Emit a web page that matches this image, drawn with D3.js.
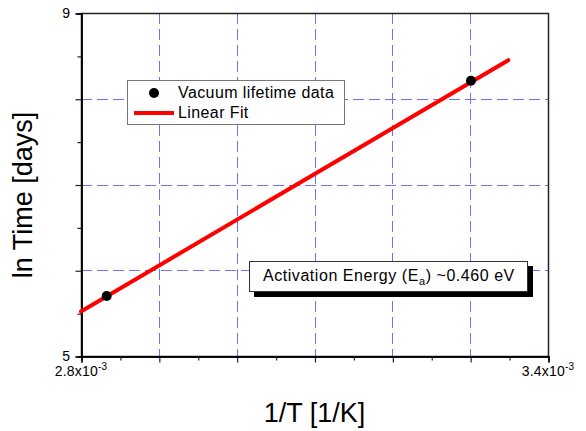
<!DOCTYPE html>
<html>
<head>
<meta charset="utf-8">
<script src="https://cdn.jsdelivr.net/npm/d3@7"></script>
<style>
  body { margin: 0; background: #fff; }
  text { font-family: Arial, "Liberation Sans", sans-serif; fill: #000; }
</style>
</head>
<body>
<svg id="chart" width="586" height="431"></svg>
<script>
// data
let points_x = [2.833e-3, 3.301e-3]
let points_y = [5.70, 8.21]
let fit_x = [2.8e-3, 3.349e-3]
let fit_y = [5.52, 8.45]
let x_major = [2.8e-3, 2.9e-3, 3.0e-3, 3.1e-3, 3.2e-3, 3.3e-3, 3.4e-3]
let x_minor = [2.85e-3, 2.95e-3, 3.05e-3, 3.15e-3, 3.25e-3, 3.35e-3]
let y_major = [5, 6, 7, 8, 9]
let y_minor = [5.5, 6.5, 7.5, 8.5]
let x_labels = [[2.8e-3, "2.8x10", "-3"], [3.4e-3, "3.4x10", "-3"]]
let y_labels = [5, 9]
let legend_items = ["Vacuum lifetime data", "Linear Fit"]

let margin = {top: 13, right: 38, bottom: 75, left: 81}
let width = 586, height = 431

let svg = d3.select("#chart")

let scales = {
  x: d3.scaleLinear().domain([2.8e-3, 3.4e-3]).range([margin.left, width - margin.right]),
  y: d3.scaleLinear().domain([5, 9]).range([height - margin.bottom, margin.top])
}
let x0 = scales.x.range()[0], x1 = scales.x.range()[1]
let y0 = scales.y.range()[0], y1 = scales.y.range()[1]

// grid
let grid = svg.append("g")
grid.selectAll("line.vx")
  .data(x_major.slice(1, -1)).enter()
  .append("line")
  .attr("x1", d => Math.round(scales.x(d)) + 0.5)
  .attr("x2", d => Math.round(scales.x(d)) + 0.5)
  .attr("y1", y1).attr("y2", y0)
  .attr("stroke", "#6f6fff").attr("stroke-dasharray", "11,5")
grid.selectAll("line.hy")
  .data(y_major.slice(1, -1)).enter()
  .append("line")
  .attr("y1", d => Math.round(scales.y(d)) + 0.5)
  .attr("y2", d => Math.round(scales.y(d)) + 0.5)
  .attr("x1", x0).attr("x2", x1)
  .attr("stroke", "#6f6fff").attr("stroke-dasharray", "11,5")

// frame
svg.append("rect")
  .attr("x", x0 + 0.5).attr("y", y1 + 0.5)
  .attr("width", x1 - x0).attr("height", y0 - y1)
  .attr("fill", "none").attr("stroke", "#222").attr("stroke-width", 1.5)

// axes (ticks only, labels drawn separately)
let x_axis = svg.append("g").attr("transform", `translate(0.5, ${y0 + 0.5})`)
x_axis.call(d3.axisBottom(scales.x).tickValues(x_major).tickSize(6).tickFormat(""))
x_axis.append("g").call(d3.axisBottom(scales.x).tickValues(x_minor).tickSize(4).tickFormat(""))
x_axis.selectAll(".domain").attr("stroke-width", 1.5)

let y_axis = svg.append("g").attr("transform", `translate(${x0 + 0.5}, 0.5)`)
y_axis.call(d3.axisLeft(scales.y).tickValues(y_major).tickSize(6).tickFormat(""))
y_axis.append("g").call(d3.axisLeft(scales.y).tickValues(y_minor).tickSize(4).tickFormat(""))
y_axis.selectAll(".domain").attr("stroke-width", 1.5)
svg.selectAll(".tick line").attr("stroke", "#222").attr("stroke-width", 1.2)

// tick labels
let xl = svg.append("g").selectAll("text")
  .data(x_labels).enter()
  .append("text")
  .attr("x", d => scales.x(d[0]))
  .attr("y", y0 + 20)
  .attr("text-anchor", "middle")
  .style("font-size", "14px")
  .style("letter-spacing", "0.2px")
xl.append("tspan").text(d => d[1])
xl.append("tspan").attr("dy", -6).style("font-size", "10px").text(d => d[2])

svg.append("g").selectAll("text")
  .data(y_labels).enter()
  .append("text")
  .attr("x", x0 - 11)
  .attr("y", d => scales.y(d) + 5)
  .attr("text-anchor", "end")
  .style("font-size", "14px")
  .text(d => d)

// fit line
let line = d3.line().x(d => scales.x(d[0])).y(d => scales.y(d[1]))
svg.append("path")
  .attr("d", line(d3.zip(fit_x, fit_y)))
  .attr("fill", "none").attr("stroke", "#ff0000").attr("stroke-width", 4)
  .attr("stroke-linecap", "round")

// data points
svg.append("g").selectAll("circle")
  .data(d3.zip(points_x, points_y)).enter()
  .append("circle")
  .attr("cx", d => scales.x(d[0]))
  .attr("cy", d => scales.y(d[1]))
  .attr("r", 5)
  .attr("fill", "#000")

// axis titles
svg.append("text")
  .attr("x", (x0 + x1) / 2).attr("y", 422)
  .attr("text-anchor", "middle")
  .style("font-size", "27px")
  .text("1/T [1/K]")
svg.append("text")
  .attr("transform", "translate(32, 195) rotate(-90)")
  .attr("text-anchor", "middle")
  .style("font-size", "27px")
  .text("ln Time [days]")

// legend
let legend = svg.append("g").attr("transform", "translate(127, 80)")
legend.append("rect")
  .attr("x", 0.5).attr("y", 0.5).attr("width", 217).attr("height", 44)
  .attr("fill", "#fff").attr("stroke", "#777")
legend.append("circle").attr("cx", 27).attr("cy", 13).attr("r", 5).attr("fill", "#000")
legend.append("line").attr("x1", 7).attr("x2", 47).attr("y1", 33).attr("y2", 33)
  .attr("stroke", "#ff0000").attr("stroke-width", 4)
legend.selectAll("text.item")
  .data(legend_items).enter()
  .append("text")
  .attr("x", 51)
  .attr("y", (d, i) => 18 + i * 20)
  .style("font-size", "16px")
  .style("letter-spacing", "0.4px")
  .text(d => d)

// annotation box
let note = svg.append("g").attr("transform", "translate(249, 261)")
note.append("rect").attr("x", 5).attr("y", 5).attr("width", 279).attr("height", 31).attr("fill", "#000")
note.append("rect").attr("x", 0.5).attr("y", 0.5).attr("width", 278).attr("height", 30)
  .attr("fill", "#fff").attr("stroke", "#333")
let nt = note.append("text").attr("x", 14).attr("y", 20)
  .style("font-size", "16px").style("letter-spacing", "0.55px")
nt.append("tspan").text("Activation Energy (E")
nt.append("tspan").attr("dy", 4).style("font-size", "11px").text("a")
nt.append("tspan").attr("dy", -4).text(") ~0.460 eV")
</script>
</body>
</html>
